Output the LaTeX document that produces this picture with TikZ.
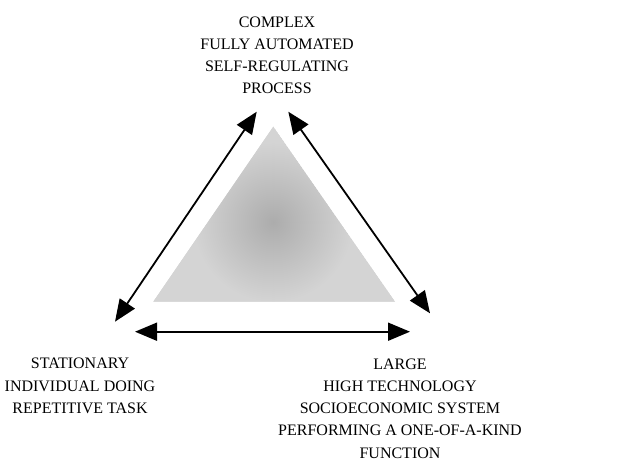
\documentclass[tikz,border=0pt]{standalone}
\usepackage{fontspec}
\setmainfont{Liberation Serif}
\usetikzlibrary{arrows.meta, positioning}
\definecolor{coreDark}{RGB}{172, 172, 172}
\definecolor{coreLight}{RGB}{212, 212, 212}
\pgfdeclareradialshading{coreshade}{\pgfpointorigin}{color(0bp)=(coreDark); color(10bp)=(coreLight); color(50bp)=(coreLight)}

\begin{document}
\begin{tikzpicture}[x=1pt, y=-1pt,
    link/.style={{Triangle[length=22pt, width=18pt]}-{Triangle[length=22pt, width=18pt]}, line width=1.8pt, black},
    label/.style={align=center, anchor=base, inner sep=0pt, font=\fontsize{16}{22.2}\selectfont}
]
\useasboundingbox (0,0) rectangle (628,462);

% --- shaded core triangle ---
\coordinate (apex) at (273.3,126.7);
\coordinate (baseL) at (153.3,301.7);
\coordinate (baseR) at (395,301.7);
\begin{scope}
    \clip (apex) -- (baseL) -- (baseR) -- cycle;
    \fill[coreLight] (apex) -- (baseL) -- (baseR) -- cycle;
    \shade[shading=coreshade] (273,222) circle (200);
\end{scope}

% --- corner labels (anchored on their last line) ---
\node[label] (top) at (277,94) {COMPLEX\\FULLY AUTOMATED\\SELF-REGULATING\\PROCESS};
\node[label] (left) at (80,413.3) {STATIONARY\\INDIVIDUAL DOING\\REPETITIVE TASK};
\node[label] (right) at (400,458) {LARGE\\HIGH TECHNOLOGY\\SOCIOECONOMIC SYSTEM\\PERFORMING A ONE-OF-A-KIND\\FUNCTION};

% --- arrow ends ---
\coordinate (lowL) at (115,321.7);
\coordinate (upL) at (256.7,111.7);
\coordinate (upR) at (288.3,111.7);
\coordinate (lowR) at (430,313.3);
\coordinate (botL) at (135,331.7);
\coordinate (botR) at (410,331.7);

\draw[link] (lowL) -- (upL);
\draw[link] (upR) -- (lowR);
\draw[link] (botL) -- (botR);
\end{tikzpicture}
\end{document}
